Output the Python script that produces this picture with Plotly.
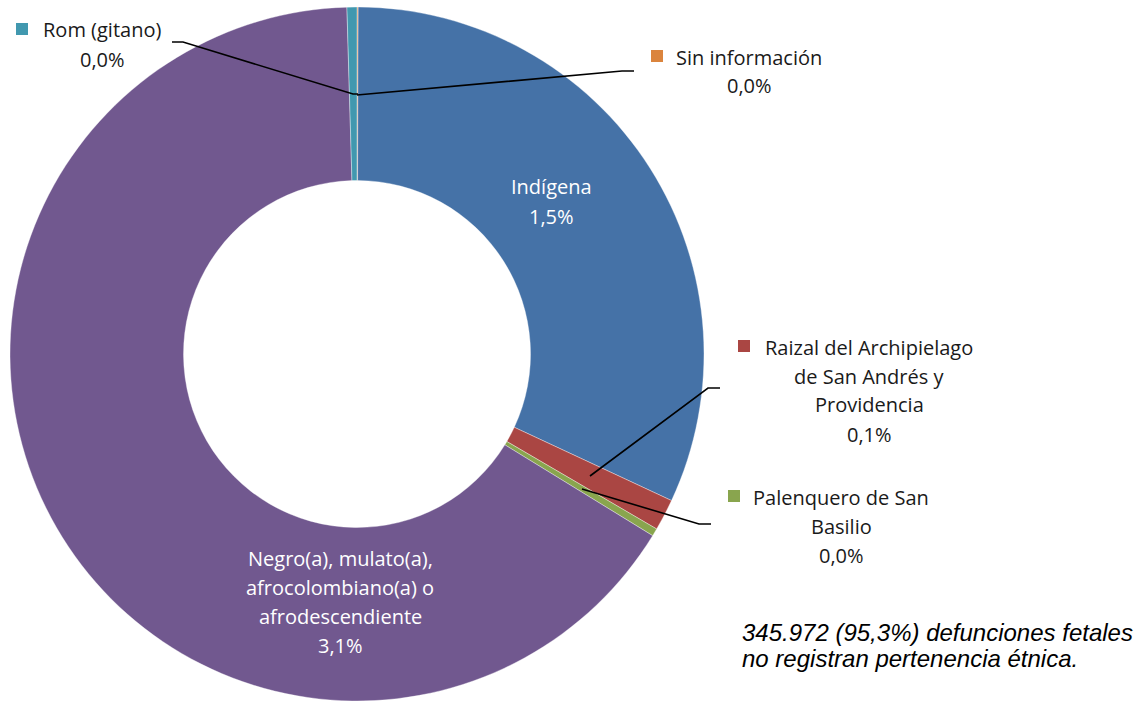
import plotly.graph_objects as go

W, H = 1136, 702

# defunciones fetales por pertenencia étnica (conteos estimados del gráfico)
categorias = ["Sin información", "Indígena", "Raizal del Archipielago de San Andrés y Providencia",
              "Palenquero de San Basilio", "Negro(a), mulato(a), afrocolombiano(a) o afrodescendiente",
              "Rom (gitano)"]
valores = [9, 5445, 251, 61, 11230, 79]
porcentajes = ["0,0%", "1,5%", "0,1%", "0,0%", "3,1%", "0,0%"]
colores = ["#DB843D", "#4572A7", "#AA4643", "#89A54E", "#71588F", "#4198AF"]

# etiquetas partidas en líneas como en el original
lineas = {
    "Sin información": ["Sin información"],
    "Indígena": ["Indígena"],
    "Raizal del Archipielago de San Andrés y Providencia": ["Raizal del Archipielago", "de San Andrés y", "Providencia"],
    "Palenquero de San Basilio": ["Palenquero de San", "Basilio"],
    "Negro(a), mulato(a), afrocolombiano(a) o afrodescendiente": ["Negro(a), mulato(a),", "afrocolombiano(a) o", "afrodescendiente"],
    "Rom (gitano)": ["Rom (gitano)"],
}
nota = ["345.972 (95,3%) defunciones fetales", "no registran pertenencia étnica."]


def px(x):
    return x / W


def py(y):
    return 1 - y / H


fig = go.Figure(go.Pie(
    labels=categorias, values=valores, sort=False, direction="clockwise", rotation=0,
    hole=0.5, textinfo="none", hoverinfo="label+value",
    marker=dict(colors=colores, line=dict(color="rgba(255,255,255,0.6)", width=0.6)),
    domain=dict(x=[px(10), px(704)], y=[py(701), py(7)]),
    showlegend=False,
))

font_lbl = "Open Sans"
# posiciones de los bloques de texto: (centro x, y primera línea, color, cuadro)
bloques = {
    "Sin información": (749, 57, "#1a1a1a", (651, 50)),
    "Indígena": (551, 187, "white", None),
    "Raizal del Archipielago de San Andrés y Providencia": (869, 347, "#1a1a1a", (738, 340)),
    "Palenquero de San Basilio": (841, 497, "#1a1a1a", (728, 490)),
    "Negro(a), mulato(a), afrocolombiano(a) o afrodescendiente": (340, 558, "white", None),
    "Rom (gitano)": (102, 30, "#1a1a1a", (16, 23)),
}

shapes = []
annotations = []
for cat, pct, col in zip(categorias, porcentajes, colores):
    cx, y0, tcol, sq = bloques[cat]
    txt = lineas[cat] + [pct]
    for i, t in enumerate(txt):
        annotations.append(dict(x=px(cx), y=py(y0 + 29 * i), xref="paper", yref="paper",
                                text=t, showarrow=False, xanchor="center", yanchor="middle",
                                font=dict(family=font_lbl, size=20, color=tcol)))
    if sq:
        shapes.append(dict(type="rect", xref="paper", yref="paper",
                           x0=px(sq[0]), x1=px(sq[0] + 12), y0=py(sq[1]), y1=py(sq[1] + 12),
                           fillcolor=col, line=dict(width=0)))

# líneas guía
guias = [
    [(172, 42), (183, 42), (353, 94), (358, 94)],
    [(357, 95), (622, 71), (634, 71)],
    [(590, 476), (708, 388), (720, 388)],
    [(582, 489), (699, 524), (711, 524)],
]
for g in guias:
    path = "M " + " L ".join(f"{px(x)},{py(y)}" for x, y in g)
    shapes.append(dict(type="path", xref="paper", yref="paper", path=path,
                       line=dict(color="black", width=1.6)))

for i, t in enumerate(nota):
    annotations.append(dict(x=px(740), y=py(632 + 26 * i), xref="paper", yref="paper",
                            text=t, showarrow=False, xanchor="left", yanchor="middle",
                            font=dict(family="Liberation Sans", size=24, color="black", style="italic")))

fig.update_layout(width=W, height=H, margin=dict(l=0, r=0, t=0, b=0),
                  paper_bgcolor="white", plot_bgcolor="white",
                  shapes=shapes, annotations=annotations)
fig.write_html("out.html", config={"displayModeBar": False},
               post_script="document.body.style.margin='0';")
